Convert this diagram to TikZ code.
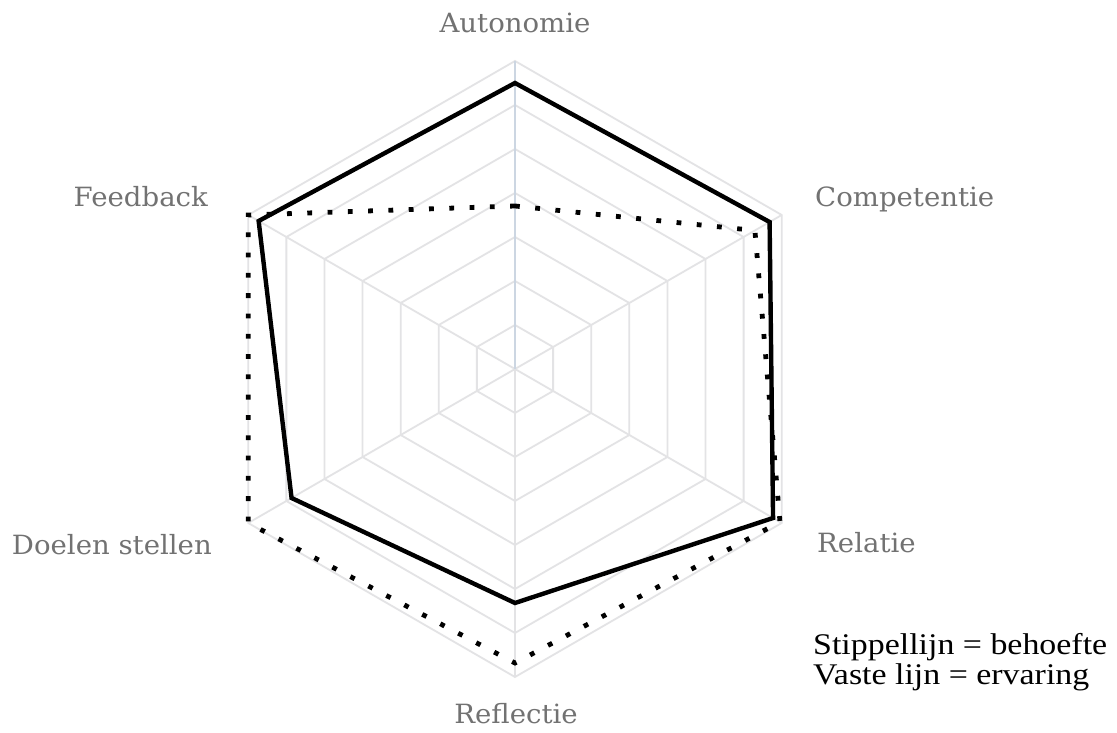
\documentclass[tikz,border=0pt]{standalone}
\usepackage{fontspec}
\setmainfont{DejaVu Serif}
\newfontfamily\labelfont[FakeStretch=1.04]{DejaVu Serif}
\newfontfamily\legendfont[FakeStretch=1.13]{Liberation Serif}
\definecolor{gridgray}{HTML}{E3E3E5}
\definecolor{axisblue}{HTML}{CCD6E2}
\definecolor{labelgray}{HTML}{727272}
\tikzset{
  gridline/.style={draw=gridgray, line width=1.8pt},
  axisline/.style={draw=axisblue, line width=1.8pt},
  solidline/.style={draw=black, line width=4.4pt, line join=miter},
  dotline/.style={draw=black, line width=4.8pt, dash pattern=on 4.8pt off 15.5pt},
  axlabel/.style={text=labelgray, font=\labelfont\fontsize{26.5}{30}\selectfont, inner sep=0pt},
  legendtext/.style={font=\legendfont\fontsize{30}{30}\selectfont, inner sep=0pt, text=black}
}
\begin{document}
\begin{tikzpicture}[x=1pt,y=1pt]
\useasboundingbox (-515,-364) rectangle (602,369);
\fill[white] (-515,-364) rectangle (602,369);
\def\R{308}
% grid rings
\foreach \k in {1,...,7}{
  \draw[gridline] (90:\k*\R/7) -- (30:\k*\R/7) -- (-30:\k*\R/7) -- (-90:\k*\R/7) -- (210:\k*\R/7) -- (150:\k*\R/7) -- cycle;
}
% spokes
\coordinate (c) at (0,0);
\foreach \a in {30,-30,-90,210,150}{
  \draw[gridline] (c) -- (\a:\R);
}
\draw[axisline] (c) -- (90:\R);
% data: experience (solid)
\coordinate (sA) at (90:286);
\coordinate (sC) at (30:294);
\coordinate (sR) at (-30:298);
\coordinate (sRf) at (-90:234);
\coordinate (sD) at (210:258);
\coordinate (sF) at (150:296);
\draw[solidline] (sA) -- (sC) -- (sR) -- (sRf) -- (sD) -- (sF) -- cycle;
% data: need (dotted)
\coordinate (dA) at (90:163);
\coordinate (dC) at (30:277);
\coordinate (dR) at (-30:306);
\coordinate (dRf) at (-90:294);
\coordinate (dD) at (210:308);
\coordinate (dF) at (150:308);
\draw[dotline] (dA) -- (dC) -- (dR) -- (dRf) -- (dD) -- (dF) -- cycle;
% axis labels
\node[axlabel, anchor=base] (lA) at (0,336) {Autonomie};
\node[axlabel, anchor=base west] (lC) at (300,162) {Competentie};
\node[axlabel, anchor=base west] (lR) at (302,-184) {Relatie};
\node[axlabel, anchor=base] (lRf) at (1,-354) {Reflectie};
\node[axlabel, anchor=base east] (lD) at (-303,-186) {Doelen stellen};
\node[axlabel, anchor=base east] (lF) at (-307,162) {Feedback};
% legend
\node[legendtext, anchor=base west] (leg1) at (298,-286) {Stippellijn = behoefte};
\node[legendtext, anchor=base west] (leg2) at (298,-316) {Vaste lijn = ervaring};
\end{tikzpicture}
\end{document}
